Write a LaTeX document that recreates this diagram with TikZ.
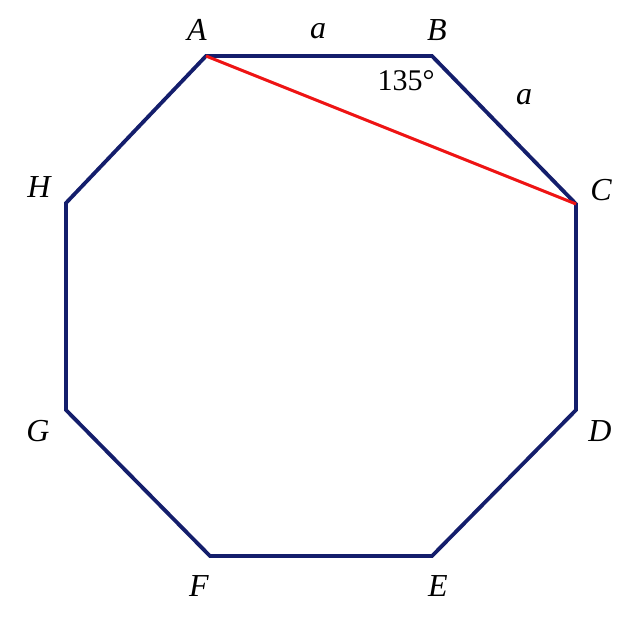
\documentclass[tikz,border=0pt]{standalone}
\usepackage{fontspec}
\setmainfont{Liberation Serif}
\usepackage{xcolor}
\usepackage{tikz}
\usetikzlibrary{positioning}

\definecolor{edgeblue}{RGB}{20,30,108}
\definecolor{chordred}{RGB}{238,20,20}

\begin{document}
\begin{tikzpicture}[x=1pt, y=-1pt,
  edge/.style={line width=3.8pt, edgeblue, line join=miter},
  chord/.style={line width=3pt, chordred},
  vlabel/.style={font=\fontsize{32}{34}\selectfont\itshape, inner sep=0pt}]

\useasboundingbox (0,0) rectangle (624,619);

% Octagon vertices
\coordinate (A) at (206,56);
\coordinate (B) at (432,56);
\coordinate (C) at (576,204);
\coordinate (D) at (576,410);
\coordinate (E) at (432,556);
\coordinate (F) at (210,556);
\coordinate (G) at (66,410);
\coordinate (H) at (66,203);

% Sides
\draw[edge] (A) -- (B) -- (C) -- (D) -- (E) -- (F) -- (G) -- (H) -- cycle;

% Diagonal AC
\draw[chord] (A) -- (C);

% Vertex labels
\node[vlabel] (labA) at (197,30) {A};
\node[vlabel] (labB) at (437,30) {B};
\node[vlabel] (labC) at (601,190) {C};
\node[vlabel] (labD) at (600,431) {D};
\node[vlabel] (labE) at (438,586) {E};
\node[vlabel] (labF) at (199,586) {F};
\node[vlabel] (labG) at (38,431) {G};
\node[vlabel] (labH) at (39,187) {H};

% Side lengths and angle
\node[vlabel] (sideAB) at (318,31) {a};
\node[vlabel] (sideBC) at (524,97) {a};
\node[font=\fontsize{30}{32}\selectfont, inner sep=0pt] (angB) at (406,81) {135°};

\end{tikzpicture}
\end{document}
